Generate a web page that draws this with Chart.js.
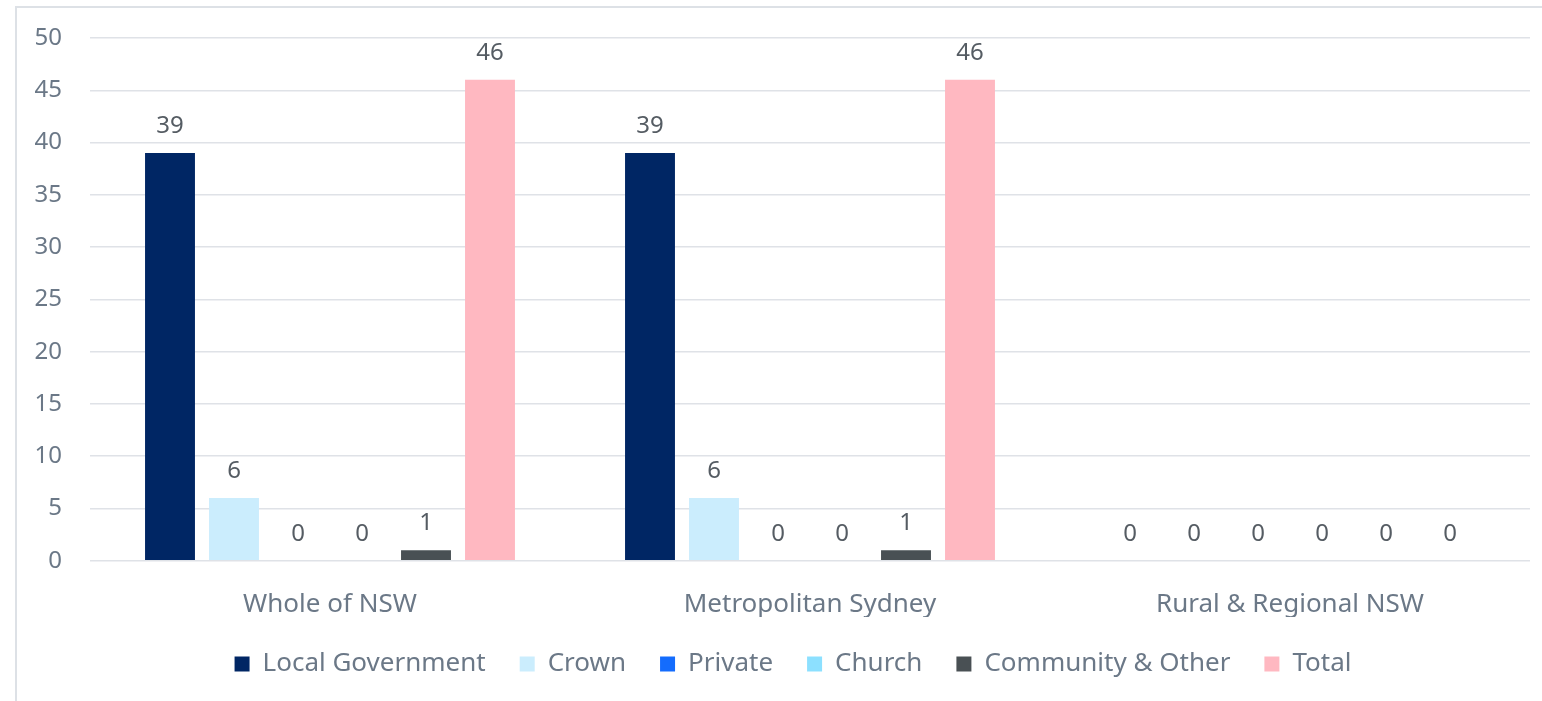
<!DOCTYPE html>
<html>
<head>
<meta charset="utf-8">
<script src="https://cdn.jsdelivr.net/npm/chart.js@4/dist/chart.umd.min.js"></script>
<style>
  html, body { margin: 0; padding: 0; background: #fff; }
  #wrap { width: 1542px; height: 701px; position: relative; }
</style>
</head>
<body>
<div id="wrap"><canvas id="chart"></canvas></div>
<script>
// chart data
const regions = ['Whole of NSW', 'Metropolitan Sydney', 'Rural & Regional NSW'];
const seriesNames = ['Local Government', 'Crown', 'Private', 'Church', 'Community & Other', 'Total'];
const localGovernment = [39, 39, 0];
const crown = [6, 6, 0];
const privateOwned = [0, 0, 0];
const church = [0, 0, 0];
const communityOther = [1, 1, 0];
const total = [46, 46, 0];
const seriesColours = ['#002664', '#cbedfd', '#146cfd', '#8ce0ff', '#495054', '#ffb8c1'];
const yTicks = [0, 5, 10, 15, 20, 25, 30, 35, 40, 45, 50];

const seriesValues = [localGovernment, crown, privateOwned, church, communityOther, total];
const fontFamily = "'Noto Sans', 'Liberation Sans', sans-serif";
const tickColour = '#6b7887';

// frame round the chart, like the exported picture
// (also nudges the legend so it sits centred under the plot like the original)
const framePlugin = {
    id: 'frame',
    beforeDraw(chart) {
        const ctx = chart.ctx;
        ctx.save();
        ctx.strokeStyle = '#dde1e6';
        ctx.lineWidth = 2;
        ctx.strokeRect(16, 7, chart.width + 20, chart.height + 20);
        ctx.restore();
        if (chart.legend && !chart.legend._nudged) {
            chart.legend.left += 36;
            chart.legend._nudged = true;
        }
    }
};

// value labels above each bar
const valueLabels = {
    id: 'valueLabels',
    afterDatasetsDraw(chart) {
        const ctx = chart.ctx;
        ctx.save();
        ctx.font = '24px ' + fontFamily;
        ctx.fillStyle = '#555c63';
        ctx.textAlign = 'center';
        ctx.textBaseline = 'middle';
        chart.data.datasets.forEach((ds, i) => {
            const meta = chart.getDatasetMeta(i);
            meta.data.forEach((bar, j) => {
                ctx.fillText(String(ds.data[j]), bar.x, bar.y - 27);
            });
        });
        ctx.restore();
    }
};

const ctx = document.getElementById('chart').getContext('2d');
new Chart(ctx, {
    type: 'bar',
    data: {
        labels: regions,
        datasets: seriesNames.map((name, i) => ({
            label: name,
            data: seriesValues[i],
            backgroundColor: seriesColours[i],
            borderWidth: 0,
            categoryPercentage: 0.8,
            barPercentage: 0.78
        }))
    },
    options: {
        responsive: true,
        maintainAspectRatio: false,
        animation: false,
        layout: {
            padding: { left: 20, right: 12, top: 38, bottom: 14 }
        },
        scales: {
            y: {
                min: 0,
                max: 50,
                afterBuildTicks: (scale) => { scale.ticks = yTicks.map(v => ({ value: v })); },
                afterFit: (scale) => {
                    scale.width = 70;
                    scale.paddingTop = 0;
                    scale.paddingBottom = 0;
                },
                border: { display: false },
                grid: { color: '#dfe2e7', lineWidth: 1.5, drawTicks: false },
                ticks: {
                    color: tickColour,
                    padding: 28,
                    font: { family: fontFamily, size: 24 }
                }
            },
            x: {
                border: { display: false },
                grid: { display: false },
                afterFit: (scale) => { scale.height -= 23; },
                ticks: {
                    color: tickColour,
                    padding: 20,
                    font: { family: fontFamily, size: 26 }
                }
            }
        },
        plugins: {
            legend: {
                position: 'bottom',
                labels: {
                    color: tickColour,
                    boxWidth: 15,
                    boxHeight: 15,
                    padding: 34,
                    font: { family: fontFamily, size: 26 }
                }
            },
            tooltip: { enabled: false }
        }
    },
    plugins: [framePlugin, valueLabels]
});
</script>
</body>
</html>
